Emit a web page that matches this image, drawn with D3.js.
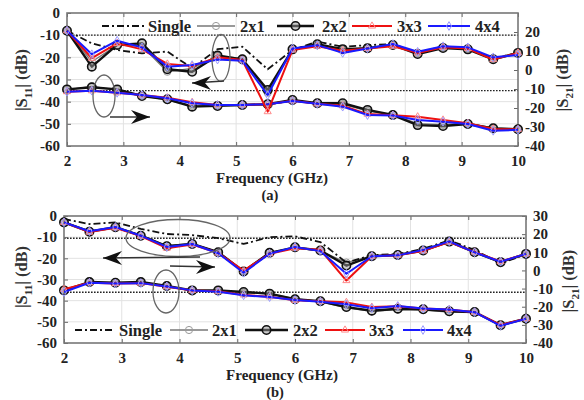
<!DOCTYPE html>
<html><head><meta charset="utf-8">
<script src="https://cdn.jsdelivr.net/npm/d3@7"></script>
<style>
html,body{margin:0;padding:0;background:#fff;}
svg{display:block;font-family:"Liberation Serif","Times New Roman",serif;font-weight:bold;}
</style></head>
<body><svg id="chart" width="584" height="400"></svg>
<script>
// ---------- DATA ----------
const freqs = [2, 2.44, 2.89, 3.33, 3.78, 4.22, 4.67, 5.11, 5.56, 6, 6.44, 6.89, 7.33, 7.78, 8.22, 8.67, 9.11, 9.56, 10];
const seriesNames = ["Single", "2x1", "2x2", "3x3", "4x4"];
const xTicks = [2, 3, 4, 5, 6, 7, 8, 9, 10];
const leftTicks = [0, -10, -20, -30, -40, -50, -60];
const rightTicksA = [20, 10, 0, -10, -20, -30, -40];
const rightTicksB = [30, 20, 10, 0, -10, -20, -30, -40];

// panel (a): |S11| (left axis)
const aS11Single = [-8, -13.7, -16.7, -18.2, -17.4, -24.9, -16.3, -15.2, -25.4, -16.7, -12.9, -15.2, -14.5, -14, -18, -15, -16, -20.5, -18];
const aS11_2x1 = [-8, -22, -14.5, -15, -26.5, -25, -19.5, -20.5, -36, -16, -14.5, -16.5, -16, -14.5, -18, -15.5, -16, -20.5, -18.2];
const aS11_2x2 = [-8, -24.2, -14.4, -13.7, -25.4, -26.5, -19.2, -20.9, -34.7, -16.4, -14.1, -16.3, -15.9, -14.4, -18.5, -15.8, -16.4, -20.9, -18];
const aS11_3x3 = [-8, -20.4, -13.7, -16.4, -23, -23.9, -20, -21.2, -44.5, -16.7, -15, -17, -16, -15, -18, -15.5, -16, -21, -18];
const aS11_4x4 = [-8, -18.6, -12.5, -15.5, -24.2, -23.5, -21, -21.5, -37, -16, -14.5, -18, -16, -14, -17.5, -15, -15.5, -20, -19];
// panel (a): |S21| (right axis)
const aS21_2x1 = [-10.5, -8.6, -10.6, -13.5, -15.8, -18.8, -18.6, -18.2, -18.2, -16.2, -17.8, -18, -21.6, -23.5, -28.2, -28.8, -28, -30.5, -31];
const aS21_2x2 = [-10.2, -9.1, -10.2, -13.7, -15.4, -19.3, -18.9, -18.4, -18, -15.8, -17.5, -17.5, -21, -23.7, -29, -29.5, -28.4, -30.7, -31.2];
const aS21_3x3 = [-11.4, -10.9, -12, -13.2, -14.6, -17, -18.4, -18.4, -18, -16.2, -17.8, -18.8, -23.2, -23.8, -24.6, -26.3, -28, -31, -31.2];
const aS21_4x4 = [-11.4, -10.9, -12, -13.2, -14.9, -17.5, -18.4, -18.4, -18, -16.3, -17.8, -19.3, -23.7, -24, -26.3, -27.2, -28.4, -32, -31.5];

// panel (b): |S11| (left axis)
const bS11Single = [-1.4, -3.8, -3, -6.1, -8.5, -9, -10.5, -13.2, -10, -9.6, -12.3, -22, -18.5, -18, -15.5, -11.5, -16, -22.5, -18];
const bS11_2x1 = [-2.8, -7, -5.5, -9, -14, -13, -17, -26, -17.2, -15.2, -16.5, -22, -18.8, -18.3, -16.4, -12.3, -16.8, -22, -18];
const bS11_2x2 = [-3, -7.4, -5.3, -9.3, -14.3, -13.2, -17.1, -26.2, -17.4, -14.8, -16.3, -23.4, -19, -18.4, -16.3, -12.1, -17.1, -21.8, -17.9];
const bS11_3x3 = [-3, -7.6, -5.6, -9.5, -15.2, -13.5, -17.5, -25.8, -17.8, -15.2, -16, -30.5, -19, -18.5, -16.5, -12.3, -17, -21.5, -17.9];
const bS11_4x4 = [-3, -7.2, -5.2, -9.3, -14.6, -13.2, -17.6, -26.8, -17.8, -14.6, -16.6, -27.3, -19, -18.6, -16, -12, -17.2, -21.6, -17.9];
// panel (b): |S21| (right axis)
const bS21_2x1 = [-10.8, -6.6, -7, -6.8, -8.8, -11.2, -11.3, -12.2, -13, -15.6, -17.2, -20.6, -22.6, -21.6, -21.8, -23, -23.2, -30, -26.6];
const bS21_2x2 = [-11, -6.4, -6.8, -6.4, -8.6, -11, -11, -11.9, -12.8, -15.9, -17, -20.2, -22.2, -21.1, -21.4, -22.5, -22.9, -30.2, -26.6];
const bS21_3x3 = [-10.4, -6.8, -7.2, -7, -9, -11, -11.5, -13.5, -14.5, -16.5, -17, -17.6, -20.2, -19.8, -21, -21.5, -23, -30, -26.6];
const bS21_4x4 = [-11.9, -6.8, -7.2, -7, -8.8, -11, -11.8, -13.7, -14.7, -16.3, -17.2, -18.7, -20.8, -19.6, -21, -21.6, -23, -30.5, -26.6];

// reference (dotted) levels on the left axis
const aRefLevels = [-10, -35];
const bRefLevels = [-10.5, -36];

// ---------- STYLES ----------
const style = {
  "Single": {color: "#111", width: 1.8, dash: "7,3,2,3", marker: "none"},
  "2x1": {color: "#777", width: 1.3, dash: null, marker: "circleSmall"},
  "2x2": {color: "#111", width: 2.4, dash: null, marker: "circle"},
  "3x3": {color: "#ee1111", width: 2, dash: null, marker: "triangle"},
  "4x4": {color: "#1a1aff", width: 2, dash: null, marker: "diamond"}
};

const svg = d3.select("#chart");
const FONT = 15;

function drawMarker(g, type, x, y) {
  if (type === "circle") {
    g.append("circle").attr("cx", x).attr("cy", y).attr("r", 4.2)
      .attr("fill", "#999").attr("fill-opacity", 0.5).attr("stroke", "#111").attr("stroke-width", 1.6);
  } else if (type === "circleSmall") {
    g.append("circle").attr("cx", x).attr("cy", y).attr("r", 3.6)
      .attr("fill", "none").attr("stroke", "#999").attr("stroke-width", 1);
  } else if (type === "triangle") {
    g.append("path").attr("d", d3.symbol().type(d3.symbolTriangle).size(22)())
      .attr("transform", `translate(${x},${y})`)
      .attr("fill", "none").attr("stroke", "#ff8a8a").attr("stroke-width", 1);
  } else if (type === "diamond") {
    g.append("path").attr("d", d3.symbol().type(d3.symbolDiamond).size(22)())
      .attr("transform", `translate(${x},${y})`)
      .attr("fill", "none").attr("stroke", "#9a9aff").attr("stroke-width", 1);
  }
}

function arrowHead(g, tipX, tipY, dir) {
  const s = dir; // -1 points left, +1 points right
  const pts = [[tipX, tipY], [tipX - s * 19, tipY - 7], [tipX - s * 13, tipY], [tipX - s * 19, tipY + 7]];
  g.append("path").attr("d", "M" + pts.map(p => p.join(",")).join("L") + "Z").attr("fill", "#111");
}

function drawPanel(cfg) {
  const g = svg.append("g");
  const x = d3.scaleLinear().domain([2, 10]).range([cfg.x0, cfg.x1]);
  const yL = d3.scaleLinear().domain([-60, 0]).range([cfg.y1, cfg.y0]);
  const yR = d3.scaleLinear().domain([-40, 30]).range([cfg.y1, cfg.y0]);

  // grid
  g.append("g").selectAll("line.vx").data(xTicks.slice(1, -1)).join("line")
    .attr("x1", d => x(d)).attr("x2", d => x(d)).attr("y1", cfg.y0).attr("y2", cfg.y1)
    .attr("stroke", "#e2e2e2").attr("stroke-width", 1);
  g.append("g").selectAll("line.hy").data(leftTicks.slice(1, -1)).join("line")
    .attr("x1", cfg.x0).attr("x2", cfg.x1).attr("y1", d => yL(d)).attr("y2", d => yL(d))
    .attr("stroke", "#e2e2e2").attr("stroke-width", 1);

  // dotted reference lines
  g.append("g").selectAll("line").data(cfg.refs).join("line")
    .attr("x1", cfg.x0).attr("x2", cfg.x1).attr("y1", d => yL(d)).attr("y2", d => yL(d))
    .attr("stroke", "#222").attr("stroke-width", 1.4).attr("stroke-dasharray", "1.6,1.4");

  // axes with d3 axis generators
  const axB = g.append("g").attr("transform", `translate(0,${cfg.y1})`)
    .call(d3.axisBottom(x).tickValues(xTicks).tickSize(-4).tickPadding(9).tickFormat(d3.format("d")));
  const axT = g.append("g").attr("transform", `translate(0,${cfg.y0})`)
    .call(d3.axisTop(x).tickValues(xTicks).tickSize(-4).tickFormat(""));
  const axL = g.append("g").attr("transform", `translate(${cfg.x0},0)`)
    .call(d3.axisLeft(yL).tickValues(leftTicks).tickSize(-4).tickPadding(7).tickFormat(d3.format("d")));
  const axR = g.append("g").attr("transform", `translate(${cfg.x1},0)`)
    .call(d3.axisRight(yR).tickValues(cfg.rightTicks).tickSize(-4).tickPadding(7).tickFormat(d3.format("d")));
  [axB, axT, axL, axR].forEach(a => {
    a.attr("font-family", null);
    a.select(".domain").remove();
    a.selectAll(".tick line").attr("stroke", "#666");
    a.selectAll(".tick text").attr("font-size", FONT).attr("font-weight", "bold").attr("fill", "#222");
  });
  axL.selectAll(".tick text").text(d => d === 0 ? "0" : "-" + Math.abs(d));
  axR.selectAll(".tick text").text(d => d < 0 ? "-" + Math.abs(d) : String(d));

  // frame
  g.append("rect").attr("x", cfg.x0).attr("y", cfg.y0).attr("width", cfg.x1 - cfg.x0).attr("height", cfg.y1 - cfg.y0)
    .attr("fill", "none").attr("stroke", "#777").attr("stroke-width", 1.6);

  // series
  const order = ["2x1", "Single", "2x2", "3x3", "4x4"];
  const drawSet = (set, yS) => {
    order.forEach(name => {
      const vals = set[name];
      if (!vals) return;
      const st = style[name];
      const line = d3.line().x((d, i) => x(freqs[i])).y(d => yS(d));
      g.append("path").datum(vals).attr("d", line).attr("fill", "none")
        .attr("stroke", st.color).attr("stroke-width", st.width)
        .attr("stroke-dasharray", st.dash).attr("stroke-linejoin", "round");
      if (st.marker !== "none") {
        const mg = g.append("g");
        vals.forEach((v, i) => drawMarker(mg, st.marker, x(freqs[i]), yS(v)));
      }
    });
  };
  drawSet(cfg.s21, yR);
  drawSet(cfg.s11, yL);

  // legend
  const lg = g.append("g");
  cfg.legend.forEach((e, i) => {
    const name = seriesNames[i];
    const st = style[name];
    lg.append("line").attr("x1", e[0]).attr("x2", e[1]).attr("y1", cfg.legY).attr("y2", cfg.legY)
      .attr("stroke", st.color).attr("stroke-width", st.width).attr("stroke-dasharray", st.dash);
    if (st.marker !== "none") drawMarker(lg, st.marker, (e[0] + e[1]) / 2, cfg.legY);
    lg.append("text").attr("x", e[2]).attr("y", cfg.legY).attr("dy", "0.35em")
      .attr("font-size", 16.5).attr("fill", "#222").text(name);
  });

  // axis titles
  g.append("text").attr("x", cfg.xTitle[0]).attr("y", cfg.xTitle[1]).attr("text-anchor", "middle")
    .attr("font-size", 15).attr("fill", "#222").text("Frequency (GHz)");
  g.append("text").attr("x", cfg.tag[0]).attr("y", cfg.tag[1]).attr("text-anchor", "middle")
    .attr("font-size", 14.5).attr("fill", "#222").text(cfg.tagText);
  const ylab = (pos, sub) => {
    const t = g.append("text").attr("transform", `translate(${pos[0]},${pos[1]}) rotate(-90)`)
      .attr("text-anchor", "middle").attr("font-size", 16.5).attr("fill", "#333");
    t.append("tspan").text("|S");
    t.append("tspan").attr("font-size", 11).attr("dy", 5).text(sub);
    t.append("tspan").attr("dy", -5).text("| (dB)");
  };
  ylab(cfg.yLabL, "11");
  ylab(cfg.yLabR, "21");

  // annotations
  const an = g.append("g");
  cfg.ellipses.forEach(e => an.append("ellipse").attr("cx", e[0]).attr("cy", e[1]).attr("rx", e[2]).attr("ry", e[3])
    .attr("fill", "none").attr("stroke", "#666").attr("stroke-width", 1.3));
  cfg.arrows.forEach(a => {
    an.append("path").attr("d", "M" + a.pts.map(p => p.join(",")).join("L"))
      .attr("fill", "none").attr("stroke", "#333").attr("stroke-width", 1.3);
    const tip = a.pts[a.pts.length - 1];
    arrowHead(an, tip[0], tip[1], a.dir);
  });
}

drawPanel({
  x0: 67, x1: 518, y0: 13, y1: 146,
  rightTicks: rightTicksA, refs: aRefLevels,
  s11: {"Single": aS11Single, "2x1": aS11_2x1, "2x2": aS11_2x2, "3x3": aS11_3x3, "4x4": aS11_4x4},
  s21: {"2x1": aS21_2x1, "2x2": aS21_2x2, "3x3": aS21_3x3, "4x4": aS21_4x4},
  legY: 26,
  legend: [[102, 145, 148], [197, 235, 240], [277, 314, 322], [352, 392, 397], [428, 470, 475]],
  xTitle: [272, 183], tag: [270, 199.5], tagText: "(a)",
  yLabL: [27, 80], yLabR: [568, 80],
  ellipses: [[221, 58, 9, 23.5], [104, 96, 11, 21]],
  arrows: [{pts: [[224, 81], [192, 83]], dir: -1}, {pts: [[110, 117], [150, 117]], dir: 1}]
});

drawPanel({
  x0: 64, x1: 526, y0: 216, y1: 343,
  rightTicks: rightTicksB, refs: bRefLevels,
  s11: {"Single": bS11Single, "2x1": bS11_2x1, "2x2": bS11_2x2, "3x3": bS11_3x3, "4x4": bS11_4x4},
  s21: {"2x1": bS21_2x1, "2x2": bS21_2x2, "3x3": bS21_3x3, "4x4": bS21_4x4},
  legY: 330,
  legend: [[75, 115, 119], [170, 208, 212], [245, 288, 293], [325, 365, 369], [403, 443, 447]],
  xTitle: [282, 380], tag: [275, 397], tagText: "(b)",
  yLabL: [27, 277], yLabR: [574, 281],
  ellipses: [[178, 238, 52, 18.5], [166, 291.5, 13, 21.5]],
  arrows: [{pts: [[200, 257], [103, 258]], dir: -1}, {pts: [[170, 266], [215, 267]], dir: 1}]
});
</script></body></html>
